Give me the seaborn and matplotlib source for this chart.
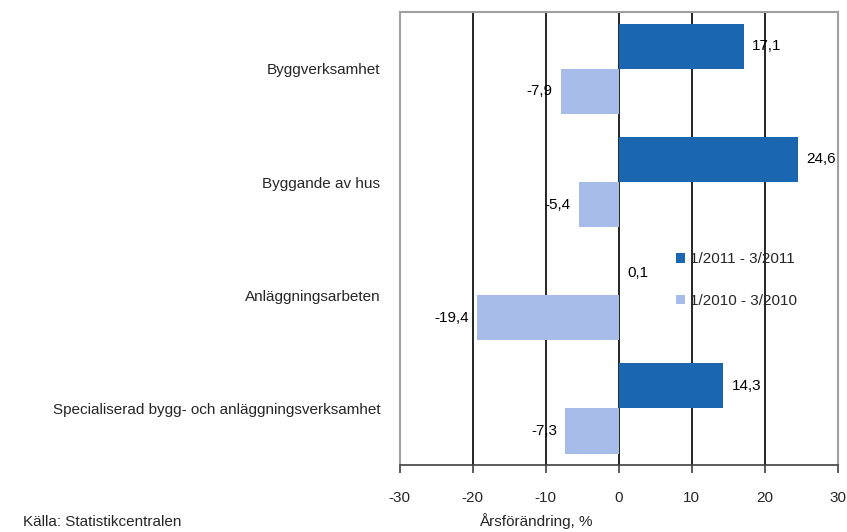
import numpy as np
import pandas as pd
import matplotlib
matplotlib.use('Agg')
import matplotlib.pyplot as plt
import seaborn as sns

categories = ['Byggverksamhet', 'Byggande av hus', 'Anläggningsarbeten',
              'Specialiserad bygg- och anläggningsverksamhet']
periods = ['1/2011 - 3/2011', '1/2010 - 3/2010']
val_2011 = [17.1, 24.6, 0.1, 14.3]
val_2010 = [-7.9, -5.4, -19.4, -7.3]
colors = ['#1A66B0', '#A7BCE9']

df = pd.DataFrame({
    'kategori': categories * 2,
    'period': [periods[0]] * 4 + [periods[1]] * 4,
    'varde': val_2011 + val_2010,
})

sns.set_style('white')
plt.rcParams['font.family'] = ['Liberation Sans', 'DejaVu Sans']
plt.rcParams['font.size'] = 11
plt.rcParams['axes.unicode_minus'] = False

fig = plt.figure(figsize=(8.47, 5.32), dpi=100)
ax = fig.add_axes([0.472, 0.126, 0.517, 0.851])

for x in range(-20, 21, 10):
    ax.axvline(x, color='black', linewidth=1.2, zorder=0)

sns.barplot(data=df, y='kategori', x='varde', hue='period', order=categories,
            hue_order=periods, palette=colors, orient='h', width=0.8,
            saturation=1, ax=ax, zorder=3, legend=True, linewidth=0)

for cont in ax.containers:
    labels = [f'{v:.1f}'.replace('.', ',') for v in cont.datavalues]
    ax.bar_label(cont, labels=labels, padding=6, fontsize=11, color='black')

ax.set_xlim(-30, 30)
ax.set_xticks(np.arange(-30, 31, 10))
ax.set_xlabel('')
ax.set_ylabel('')
ax.tick_params(axis='x', which='major', bottom=True, direction='out', length=6,
               width=1.2, color='#404040', labelsize=11, pad=13)
ax.tick_params(axis='y', left=False, length=0, pad=14, labelsize=11)
for side in ['top', 'left', 'right']:
    ax.spines[side].set_color('#A0A0A0')
    ax.spines[side].set_linewidth(1.5)
ax.spines['bottom'].set_color('#404040')
ax.spines['bottom'].set_linewidth(1.2)

leg = ax.legend(loc='upper left', bbox_to_anchor=(0.6, 0.50), frameon=False,
                handlelength=0.6, handleheight=0.6, handletextpad=0.3,
                labelspacing=1.8, fontsize=11)

fig.text(0.632, 0.005, 'Årsförändring, %', ha='center', va='bottom', fontsize=11)
fig.text(0.027, 0.005, 'Källa: Statistikcentralen', ha='left', va='bottom', fontsize=11)

plt.savefig('out.png', dpi=100)
